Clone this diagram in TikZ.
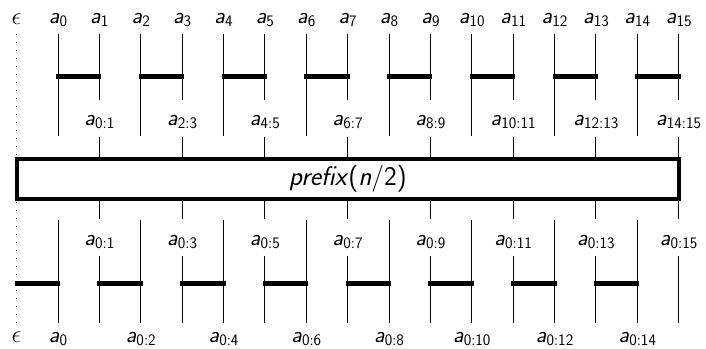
\documentclass[tikz,border=0pt]{standalone}
\newcommand\sbs[1]{\raisebox{-0.32ex}{\fontsize{16}{16}\selectfont\upshape #1}}
\newcommand\av[1]{\textit{a}\sbs{#1}}
\begin{document}
\begin{tikzpicture}[x=1pt,y=-1pt,
  lbl/.style={font=\fontsize{23}{26}\selectfont\sffamily, inner sep=0pt, anchor=base},
  thinline/.style={line width=0.9pt},
  barline/.style={line width=5pt, shorten <=-2pt, shorten >=-2pt},
  dotline/.style={line width=1pt, dash pattern=on 1pt off 7pt},
  boxline/.style={draw, line width=4pt, inner sep=0pt, minimum width=662pt, minimum height=40pt,
     font=\fontsize{27}{30}\selectfont\sffamily}]
\useasboundingbox (0,0) rectangle (706,348);
\def\X#1{(16.6+41.38*(#1+1))}
% epsilon column
\node[lbl] (teps) at (16.6,24) {$\epsilon$};
\node[lbl] (beps) at (16.6,342) {$\epsilon$};
\coordinate (e1) at (16.6,34);
\coordinate (e2) at (16.6,323);
\draw[dotline] (e1) -- (e2);
% box
\node[boxline] (pre) at (347.8,178.7) {\textit{prefix}(\textit{n}/2)};
% top labels
\foreach \k in {0,...,15} {
  \node[lbl] (t\k) at ({\X{\k}},23) {\av{\k}};
  \coordinate (ta\k) at ({\X{\k}},34);
}
% top even lines and bars
\foreach \k [evaluate=\k as \n using int(\k+1)] in {0,2,...,14} {
  \coordinate (tb\k) at ({\X{\k}},136);
  \draw[thinline] (ta\k) -- (tb\k);
  \coordinate (bl\k) at ({\X{\k}},76);
  \coordinate (br\k) at ({\X{\n}},76);
  \draw[barline] (bl\k) -- (br\k);
}
% top odd lines and labels
\foreach \k [evaluate=\k as \p using int(\k-1)] in {1,3,...,15} {
  \coordinate (tb\k) at ({\X{\k}},100);
  \draw[thinline] (ta\k) -- (tb\k);
  \node[lbl] (m\k) at ({\X{\k}},125) {\av{\p:\k}};
  \coordinate (tc\k) at ({\X{\k}},137);
  \draw[thinline] (tc\k) -- (tc\k |- pre.north);
  % bottom odd
  \coordinate (bc\k) at ({\X{\k}},219);
  \draw[thinline] (bc\k |- pre.south) -- (bc\k);
  \node[lbl] (n\k) at ({\X{\k}},245) {\av{0:\k}};
  \coordinate (bd\k) at ({\X{\k}},256);
  \coordinate (be\k) at ({\X{\k}},323);
  \draw[thinline] (bd\k) -- (be\k);
}
% bottom even lines, bars, labels
\foreach \k [evaluate=\k as \p using int(\k-1)] in {0,2,...,14} {
  \coordinate (bd\k) at ({\X{\k}},220);
  \coordinate (be\k) at ({\X{\k}},323);
  \draw[thinline] (bd\k) -- (be\k);
  \coordinate (cl\k) at ({\X{\p}},283);
  \coordinate (cr\k) at ({\X{\k}},283);
  \draw[barline] (cl\k) -- (cr\k);
}
\node[lbl] (b0) at ({\X{0}},342) {\av{0}};
\foreach \k in {2,4,...,14} {
  \node[lbl] (b\k) at ({\X{\k}},342) {\av{0:\k}};
}
\end{tikzpicture}
\end{document}
